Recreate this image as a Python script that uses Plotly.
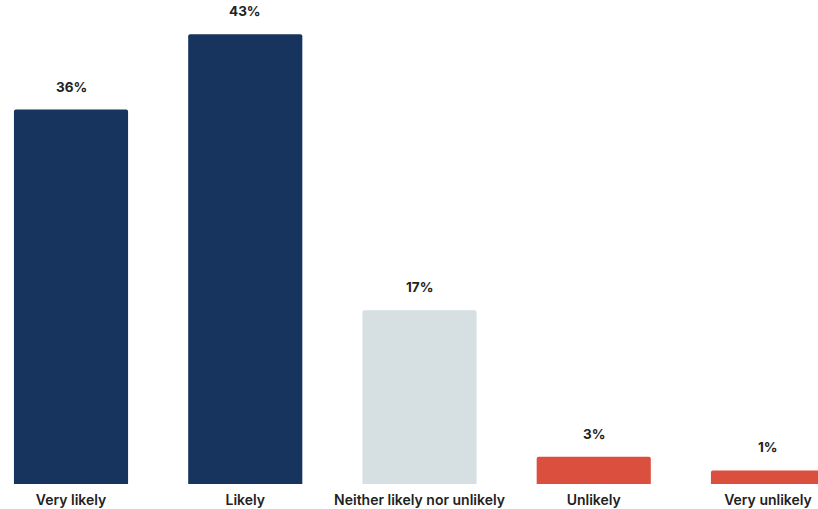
import plotly.graph_objects as go

categories = ["Very likely", "Likely", "Neither likely nor unlikely", "Unlikely", "Very unlikely"]
values = [35.8, 43.0, 16.6, 2.6, 1.3]
value_labels = ["36%", "43%", "17%", "3%", "1%"]
colors = ["#17345f", "#17345f", "#d6e0e3", "#db4f3e", "#db4f3e"]

fig = go.Figure()
fig.add_trace(go.Bar(
    x=categories,
    y=values,
    width=0.655,
    marker=dict(color=colors, line=dict(width=0), cornerradius=2),
    hoverinfo="skip",
))

for c, v, t in zip(categories, values, value_labels):
    fig.add_annotation(
        x=c, y=v, text=t, showarrow=False,
        yanchor="bottom", yshift=13,
        font=dict(family="Inter", size=13.5, color="#222222", weight=700),
    )

fig.update_layout(
    width=818, height=509,
    margin=dict(l=0, r=0, t=0, b=25),
    paper_bgcolor="white", plot_bgcolor="white",
    showlegend=False,
    font=dict(family="Inter", size=14, color="#222222"),
)
fig.update_xaxes(
    range=[-0.4075, 4.287],
    showgrid=False, zeroline=False, showline=False, ticks="",
    tickfont=dict(family="Inter", size=14, color="#222222", weight=600),
    ticklabelstandoff=6,
)
fig.update_yaxes(
    range=[0, 46.27], visible=False, showgrid=False, zeroline=False,
)

fig.write_html("out.html")
